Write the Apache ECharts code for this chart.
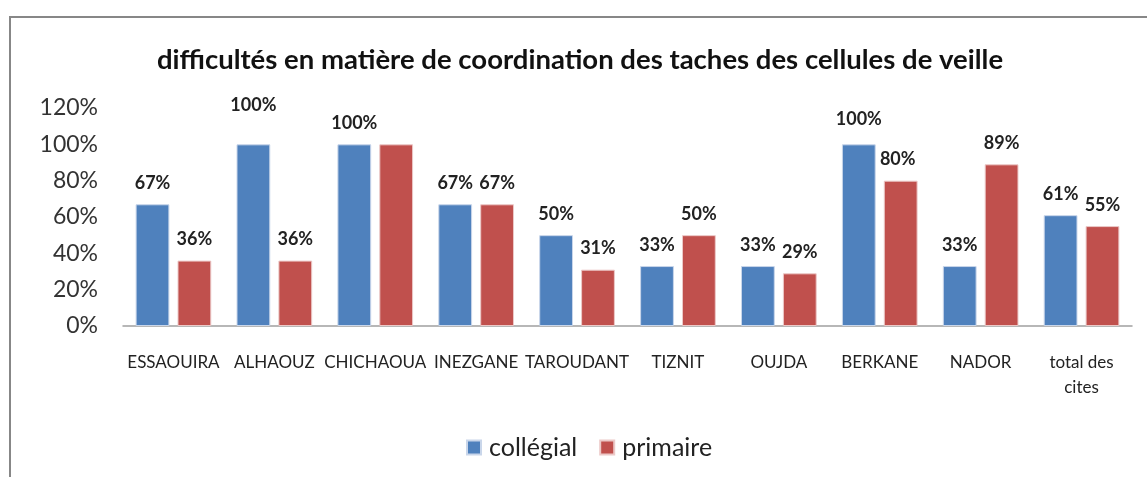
<!DOCTYPE html>
<html>
<head>
<meta charset="utf-8">
<script src="https://cdn.jsdelivr.net/npm/echarts@6/dist/echarts.min.js"></script>
<style>
  html, body { margin: 0; padding: 0; background: #fff; }
  #chart { position: absolute; left: 9px; top: 16px; width: 1140px; height: 463px;
           border-left: 2px solid #878787; border-top: 2px solid #878787; box-sizing: border-box; }
</style>
</head>
<body>
<div id="chart"></div>
<script>
  // données
  const villes = ['ESSAOUIRA', 'ALHAOUZ', 'CHICHAOUA', 'INEZGANE', 'TAROUDANT', 'TIZNIT', 'OUJDA', 'BERKANE', 'NADOR', 'total des\ncites'];
  const college = [67, 100, 100, 67, 50, 33, 33, 100, 33, 61];
  const primaire = [36, 36, 100, 67, 31, 50, 29, 80, 89, 55];
  const yTicks = [0, 20, 40, 60, 80, 100, 120];

  const font = 'Lato, "Open Sans", sans-serif';
  const chart = echarts.init(document.getElementById('chart'));

  const labelStyle = { show: true, position: 'top', distance: 12,
                       fontFamily: font, fontSize: 18, fontWeight: 'bold', color: '#222' };

  // quelques étiquettes sont décalées à la main dans l'original (Excel)
  const collegeData = college.map((v, i) => {
    if (i === 1) return { value: v, label: { distance: 30 } };
    if (i === 7) return { value: v, label: { distance: 16 } };
    return v;
  });
  const primaireData = primaire.map((v, i) => {
    if (i === 2) return { value: v, label: { show: false } };
    if (i === 7) return { value: v, label: { offset: [-3, 0] } };
    return v;
  });

  const option = {
    animation: false,
    title: {
      text: 'difficultés en matière de coordination des taches des cellules de veille',
      left: 'center',
      top: 23,
      textStyle: { fontFamily: font, fontSize: 27.5, fontWeight: 'bold', color: '#111' }
    },
    legend: {
      bottom: 14,
      left: 450,
      itemWidth: 14,
      itemHeight: 14,
      itemGap: 22,
      icon: 'rect',
      textStyle: { fontFamily: font, fontSize: 25, color: '#222', padding: [0, 0, 0, 3] },
      data: ['collégial', 'primaire']
    },
    grid: { left: 112, right: 17, top: 90, bottom: 153 },
    xAxis: {
      type: 'category',
      data: villes,
      axisLine: { lineStyle: { color: '#a0a0a0', width: 1.5 } },
      axisTick: { show: false },
      axisLabel: { fontFamily: font, fontSize: 17, color: '#222', margin: 24, interval: 0, lineHeight: 25 }
    },
    yAxis: {
      type: 'value',
      min: yTicks[0],
      max: yTicks[yTicks.length - 1],
      interval: 20,
      splitLine: { show: false },
      axisLine: { show: false },
      axisLabel: { fontFamily: font, fontSize: 23, color: '#333', margin: 25, formatter: '{value}%' }
    },
    series: [
      {
        name: 'collégial',
        type: 'bar',
        data: collegeData,
        barGap: '24%',
        barCategoryGap: '25%',
        itemStyle: { color: '#4f81bd', borderColor: '#c9d6ea', borderWidth: 1 },
        label: Object.assign({ formatter: '{c}%' }, labelStyle)
      },
      {
        name: 'primaire',
        type: 'bar',
        data: primaireData,
        itemStyle: { color: '#c0504d', borderColor: '#ecc9c8', borderWidth: 1 },
        label: Object.assign({ formatter: '{c}%' }, labelStyle)
      }
    ]
  };

  chart.setOption(option);
  window.addEventListener('resize', () => chart.resize());
</script>
</body>
</html>
